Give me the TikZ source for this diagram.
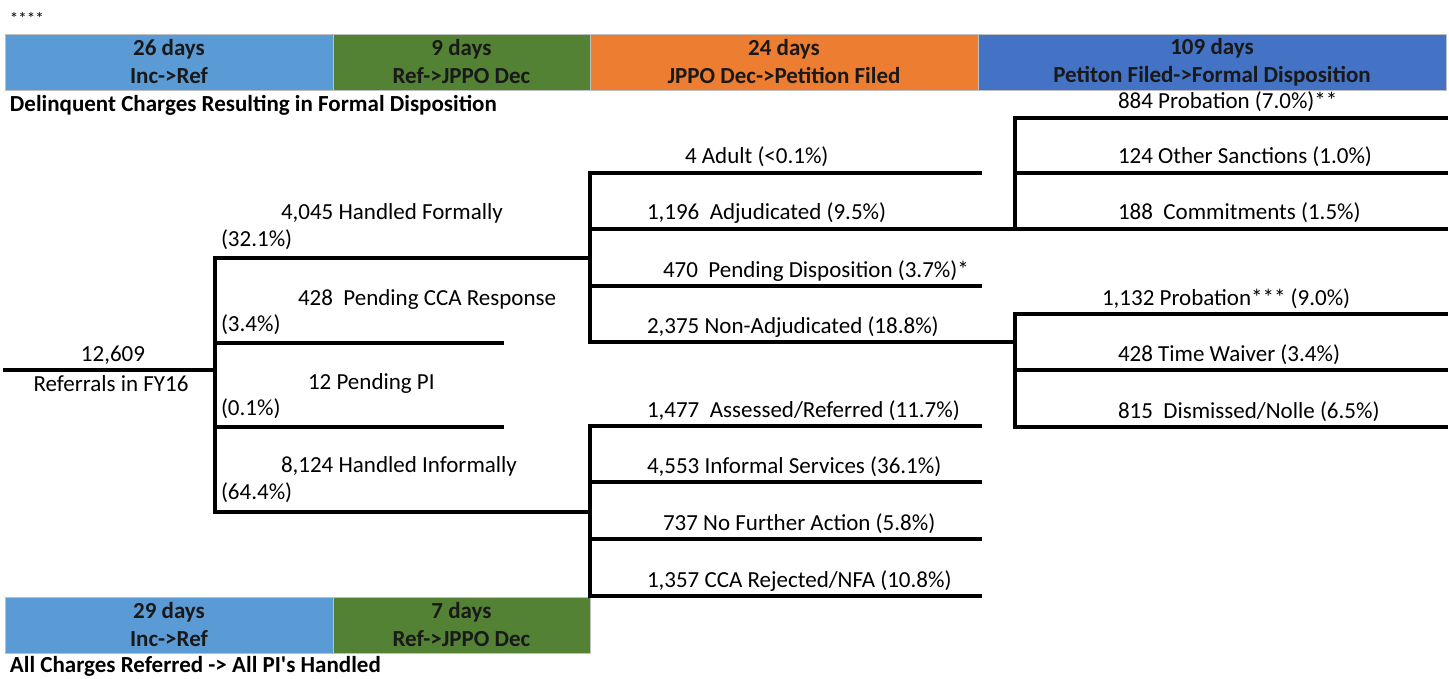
\documentclass[tikz,border=0pt]{standalone}
\usepackage{fontspec}
\setmainfont{Carlito}
\usetikzlibrary{positioning}
\definecolor{incblue}{HTML}{5B9BD5}
\definecolor{refgreen}{HTML}{548235}
\definecolor{jppoorange}{HTML}{ED7D31}
\definecolor{petblue}{HTML}{4472C4}
\tikzset{
  every node/.style={outer sep=0mm,inner sep=0mm},
  bar/.style 2 args={
    fill=#1,
    draw=black!25,
    line width=0.4pt,
    minimum width=#2,
    minimum height=28pt,
    align=center,
    text=black!90,
    font=\fontsize{11.5}{14}\selectfont\bfseries
  },
  lbl/.style={anchor=base west,font=\fontsize{11.5}{14}\selectfont},
  bartitle/.style={anchor=base west,font=\fontsize{11.5}{14}\selectfont\bfseries},
  branch/.style={line width=2pt,line cap=rect}
}
\begin{document}
\begin{tikzpicture}[x=0.5pt,y=-0.5pt]
  \useasboundingbox (0,0) rectangle (1449,679);

  \node (Stars) [anchor=base west,font=\fontsize{8.5}{9}\selectfont] at (10,25) {****};

  \node (Bar_inc) [bar={incblue}{164pt},anchor=north west] at (5,34) {26 days\\Inc->Ref};
  \node (Bar_ref) [bar={refgreen}{128.5pt},right=0pt of Bar_inc] {9 days\\Ref->JPPO Dec};
  \node (Bar_jppo) [bar={jppoorange}{194pt},right=0pt of Bar_ref] {24 days\\JPPO Dec->Petition Filed};
  \node (Bar_pet) [bar={petblue}{234pt},right=0pt of Bar_jppo] {109 days\\Petiton Filed->Formal Disposition};
  \node (Formal_title) [bartitle] at (10,112) {Delinquent Charges Resulting in Formal Disposition};

  \node (Bar_inc_all) [bar={incblue}{164pt},anchor=north west] at (5,597) {29 days\\Inc->Ref};
  \node (Bar_ref_all) [bar={refgreen}{128.5pt},right=0pt of Bar_inc_all] {7 days\\Ref->JPPO Dec};
  \node (All_title) [bartitle] at (10,672) {All Charges Referred -> All PI\textquotesingle s Handled};

  \coordinate (Root) at (5,370);
  \coordinate (Root_split) at (215,370);
  \coordinate (Formal_split) at (590,258);
  \coordinate (Pending_CCA_end) at (502,343);
  \coordinate (Pending_PI_end) at (502,427);
  \coordinate (Informal_split) at (590,512);

  \coordinate (Adult_end) at (980,173);
  \coordinate (Adjudicated_split) at (1015,229);
  \coordinate (Pending_disp_end) at (980,286);
  \coordinate (Nonadj_split) at (1015,342);

  \coordinate (Assessed_end) at (980,426);
  \coordinate (Services_end) at (980,482);
  \coordinate (NFA_end) at (980,539);
  \coordinate (Rejected_end) at (980,596);

  \coordinate (Probation_end) at (1446,118);
  \coordinate (Sanctions_end) at (1446,173);
  \coordinate (Commitments_end) at (1446,229);
  \coordinate (Probation_na_end) at (1446,314);
  \coordinate (Waiver_end) at (1446,370);
  \coordinate (Dismissed_end) at (1446,427);

  \draw [branch] (Root) -- (Root_split);
  \draw [branch] (Root_split) |- (Formal_split);
  \draw [branch] (Root_split) |- (Pending_CCA_end);
  \draw [branch] (Root_split) |- (Pending_PI_end);
  \draw [branch] (Root_split) |- (Informal_split);

  \draw [branch] (Formal_split) |- (Adult_end);
  \draw [branch] (Formal_split) |- (Adjudicated_split);
  \draw [branch] (Formal_split) |- (Pending_disp_end);
  \draw [branch] (Formal_split) |- (Nonadj_split);

  \draw [branch] (Informal_split) |- (Assessed_end);
  \draw [branch] (Informal_split) |- (Services_end);
  \draw [branch] (Informal_split) |- (NFA_end);
  \draw [branch] (Informal_split) |- (Rejected_end);

  \draw [branch] (Adjudicated_split) |- (Probation_end);
  \draw [branch] (Adjudicated_split) |- (Sanctions_end);
  \draw [branch] (Adjudicated_split) -- (Commitments_end);
  \draw [branch] (Nonadj_split) |- (Probation_na_end);
  \draw [branch] (Nonadj_split) |- (Waiver_end);
  \draw [branch] (Nonadj_split) |- (Dismissed_end);

  \node (Root_count) [anchor=base,font=\fontsize{11.5}{14}\selectfont] at (113,361) {12,609};
  \node (Root_lbl) [anchor=base,font=\fontsize{11.5}{14}\selectfont] at (111,391) {Referrals in FY16};

  \node (Formal_lbl) [lbl] at (281,220) {4,045 Handled Formally};
  \node (Formal_pct) [lbl] at (221,247) {(32.1\%)};
  \node (Pending_CCA_lbl) [lbl] at (298,305) {428~ Pending CCA Response};
  \node (Pending_CCA_pct) [lbl] at (221,331) {(3.4\%)};
  \node (Pending_PI_lbl) [lbl] at (308,389) {12 Pending PI};
  \node (Pending_PI_pct) [lbl] at (221,415) {(0.1\%)};
  \node (Informal_lbl) [lbl] at (281,472) {8,124 Handled Informally};
  \node (Informal_pct) [lbl] at (221,499) {(64.4\%)};

  \node (Adult_lbl) [lbl] at (685,164) {4 Adult (<0.1\%)};
  \node (Adjudicated_lbl) [lbl] at (647,220) {1,196~ Adjudicated (9.5\%)};
  \node (Pending_disp_lbl) [lbl] at (663,277) {470~ Pending Disposition (3.7\%)*};
  \node (Nonadj_lbl) [lbl] at (647,333) {2,375 Non-Adjudicated (18.8\%)};
  \node (Assessed_lbl) [lbl] at (647,417) {1,477~ Assessed/Referred (11.7\%)};
  \node (Services_lbl) [lbl] at (647,473) {4,553 Informal Services (36.1\%)};
  \node (NFA_lbl) [lbl] at (663,530) {737 No Further Action (5.8\%)};
  \node (Rejected_lbl) [lbl] at (647,587) {1,357 CCA Rejected/NFA (10.8\%)};

  \node (Probation_lbl) [lbl] at (1118,109) {884 Probation (7.0\%)**};
  \node (Sanctions_lbl) [lbl] at (1118,164) {124 Other Sanctions (1.0\%)};
  \node (Commitments_lbl) [lbl] at (1118,220) {188~ Commitments (1.5\%)};
  \node (Probation_na_lbl) [lbl] at (1102,305) {1,132 Probation*** (9.0\%)};
  \node (Waiver_lbl) [lbl] at (1118,361) {428 Time Waiver (3.4\%)};
  \node (Dismissed_lbl) [lbl] at (1118,418) {815~ Dismissed/Nolle (6.5\%)};
\end{tikzpicture}
\end{document}
